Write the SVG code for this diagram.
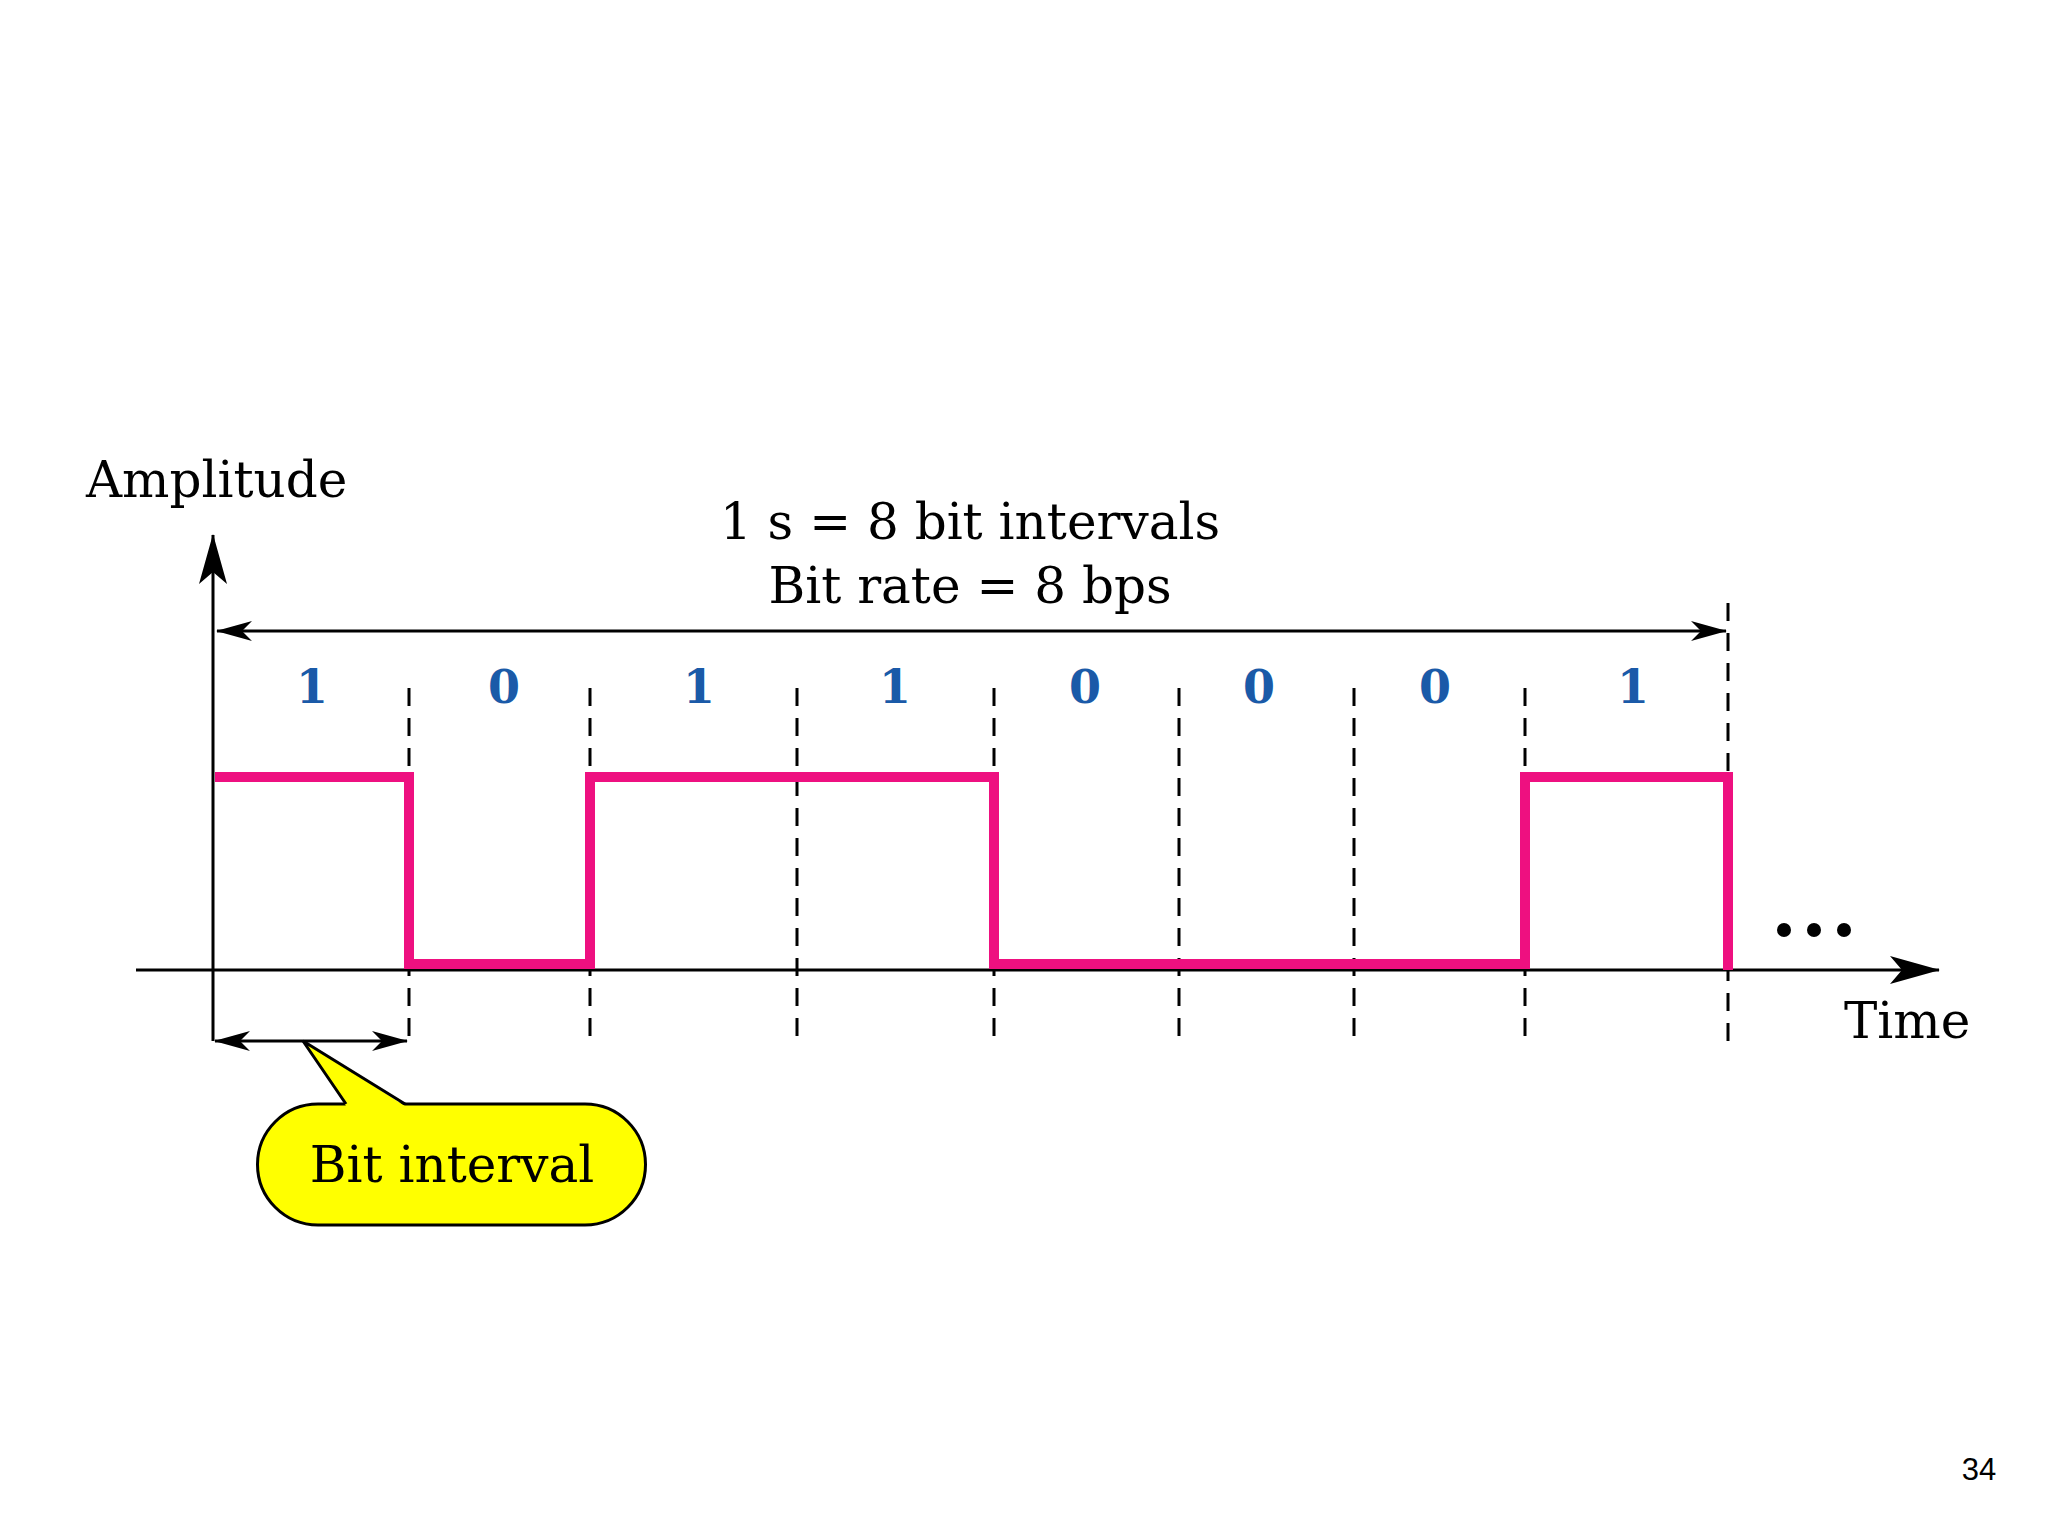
<svg xmlns="http://www.w3.org/2000/svg" width="2048" height="1536" viewBox="0 0 2048 1536">
<style>
.t{font-family:"DejaVu Serif","Liberation Serif",serif;fill:#000;font-size:50px}
.b{font-family:"DejaVu Serif","Liberation Serif",serif;font-weight:bold;fill:#1a5aa8;font-size:46px;text-anchor:middle}
.d{stroke:#000;stroke-width:3;stroke-dasharray:18,12}
.ax{stroke:#000;stroke-width:3;fill:none}
</style>
<defs>
<marker id="ah" viewBox="0 0 36 20" refX="35" refY="10" markerWidth="36" markerHeight="20" markerUnits="userSpaceOnUse" orient="auto-start-reverse">
<path d="M0,0 L36,10 L0,20 L10,10 Z" fill="#000"/>
</marker>
<marker id="big" viewBox="0 0 50 28" refX="49" refY="14" markerWidth="50" markerHeight="28" markerUnits="userSpaceOnUse" orient="auto">
<path d="M0,0 L50,14 L0,28 L12,14 Z" fill="#000"/>
</marker>
</defs>
<rect width="2048" height="1536" fill="#fff"/>
<g id="labels">
<text class="t" x="86" y="497">Amplitude</text>
<text class="t" x="970" y="539" text-anchor="middle" font-size="47">1 s = 8 bit intervals</text>
<text class="t" x="970" y="603" text-anchor="middle" font-size="47">Bit rate = 8 bps</text>
<text class="t" x="1844" y="1038">Time</text>
<text x="1979" y="1480" font-family="Liberation Sans,Arial,sans-serif" font-size="31" text-anchor="middle">34</text>
</g>
<g id="bits">
<text class="b" x="312" y="703">1</text>
<text class="b" x="504" y="703">0</text>
<text class="b" x="699" y="703">1</text>
<text class="b" x="895" y="703">1</text>
<text class="b" x="1085" y="703">0</text>
<text class="b" x="1259" y="703">0</text>
<text class="b" x="1435" y="703">0</text>
<text class="b" x="1633" y="703">1</text>
</g>
<g id="connectors">
<line class="d" x1="409" y1="688" x2="409" y2="1041"/>
<line class="d" x1="590" y1="688" x2="590" y2="1041"/>
<line class="d" x1="797" y1="688" x2="797" y2="1041"/>
<line class="d" x1="994" y1="688" x2="994" y2="1041"/>
<line class="d" x1="1179" y1="688" x2="1179" y2="1041"/>
<line class="d" x1="1354" y1="688" x2="1354" y2="1041"/>
<line class="d" x1="1525" y1="688" x2="1525" y2="1041"/>
<line class="d" x1="1728" y1="603" x2="1728" y2="1041"/>
<line class="ax" x1="213" y1="1041" x2="213" y2="535" marker-end="url(#big)"/>
<line class="ax" x1="136" y1="970" x2="1939" y2="970" marker-end="url(#big)"/>
<line class="ax" x1="217" y1="631" x2="1726" y2="631" marker-start="url(#ah)" marker-end="url(#ah)"/>
<line class="ax" x1="215" y1="1041" x2="407" y2="1041" marker-start="url(#ah)" marker-end="url(#ah)"/>
<path d="M215,777 H409 V964 H590 V777 H994 V964 H1525 V777 H1728 V970" fill="none" stroke="#ee1080" stroke-width="10"/>
<circle cx="1784" cy="930" r="7"/><circle cx="1814" cy="930" r="7"/><circle cx="1844" cy="930" r="7"/>
</g>
<g id="callout">
<path d="M318,1104 H585 A60,60 0 0 1 585,1225 H318 A60,60 0 0 1 318,1104 Z" fill="#ffff00" stroke="#000" stroke-width="3"/>
<path d="M346,1106 L303,1041 L405,1106 Z" fill="#ffff00"/>
<path d="M346,1104 L303,1041 L405,1104" fill="none" stroke="#000" stroke-width="3"/>
<text class="t" x="452" y="1182" text-anchor="middle" font-size="52">Bit interval</text>
</g>
</svg>
